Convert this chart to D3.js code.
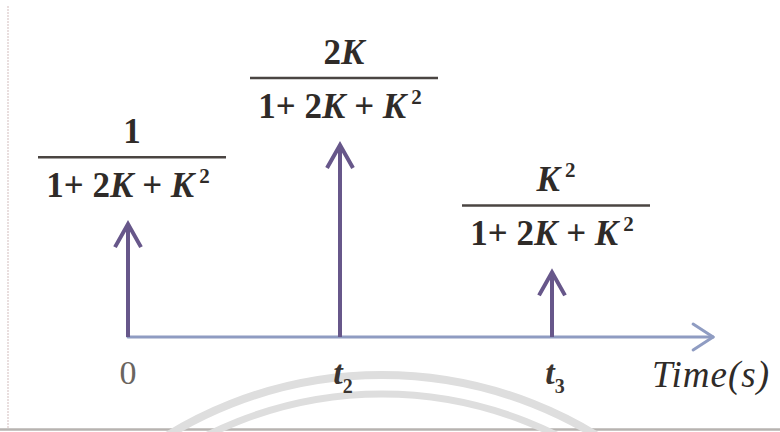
<!DOCTYPE html>
<html>
<head>
<meta charset="utf-8">
<script src="https://cdn.jsdelivr.net/npm/d3@7"></script>
<style>
  html, body { margin: 0; padding: 0; background: #fff; }
  svg { display: block; }
  text { font-family: "Liberation Serif", "Times New Roman", serif; }
</style>
</head>
<body>
<svg id="chart" width="780" height="432"></svg>
<script>
// Impulse train: sample instants and impulse strengths
const instants = [0, 1, 2];                 // t = 0, t2, t3 (equal spacing)
const strengths = [0.59, 1.0, 0.34];        // relative impulse heights
const tickLabels = [
  { main: "0", sub: "" , italic: false },
  { main: "t", sub: "2", italic: true },
  { main: "t", sub: "3", italic: true }
];
// Numerators of each weight; all share the denominator 1 + 2K + K^2
const numerators = [
  [{ t: "1" }],
  [{ t: "2" }, { t: "K", i: true }],
  [{ t: "K", i: true }, { t: "2", sup: true }]
];
const denominator = [
  { t: "1+ 2" }, { t: "K", i: true }, { t: " + " }, { t: "K", i: true }, { t: "2", sup: true }
];
const axisTitle = "Time(s)";

const svg = d3.select("#chart");
const W = 780, H = 432;

const x = d3.scaleLinear().domain([0, 3]).range([128, 764]);
const y = d3.scaleLinear().domain([0, 1]).range([337, 144]);
const tEnd = 2.76;

const impulseColor = "#67578a";
const axisColor = "#8f9cc2";
const textColor = "#2f2b28";

// Faint frame: left edge and bottom edge
svg.append("line").attr("x1", 8).attr("y1", 6).attr("x2", 8).attr("y2", 430)
  .attr("stroke", "#e2d4d4").attr("stroke-width", 1.5).attr("stroke-dasharray", "2,1");
svg.append("line").attr("x1", 0).attr("y1", 429.5).attr("x2", W).attr("y2", 429.5)
  .attr("stroke", "#b7b3b0").attr("stroke-width", 2.5);

// Pale concentric arcs near the bottom
const arcG = svg.append("g").attr("fill", "none").attr("stroke", "#dedede");
[[410, 8], [391, 7]].forEach(([r, w]) => {
  arcG.append("circle").attr("cx", 382).attr("cy", 785).attr("r", r).attr("stroke-width", w);
});

// Time axis with open arrowhead
const g = svg.append("g");
g.append("line")
  .attr("x1", x(0)).attr("y1", y(0)).attr("x2", x(tEnd)).attr("y2", y(0))
  .attr("stroke", axisColor).attr("stroke-width", 3).attr("stroke-linecap", "round");
g.append("path")
  .attr("d", d3.line()([[x(tEnd) - 20, y(0) - 13], [x(tEnd), y(0)], [x(tEnd) - 20, y(0) + 13]]))
  .attr("fill", "none").attr("stroke", axisColor).attr("stroke-width", 3)
  .attr("stroke-linecap", "round").attr("stroke-linejoin", "round");

// Impulses
const imp = g.selectAll("g.impulse").data(instants.map((t, i) => ({ t, v: strengths[i], i })))
  .join("g").attr("class", "impulse");
imp.append("line")
  .attr("x1", d => x(d.t)).attr("x2", d => x(d.t))
  .attr("y1", y(0)).attr("y2", d => y(d.v) + 2)
  .attr("stroke", impulseColor).attr("stroke-width", 4);
imp.append("path")
  .attr("d", d => d3.line()([[x(d.t) - 13, y(d.v) + 24], [x(d.t), y(d.v) + 1], [x(d.t) + 13, y(d.v) + 24]]))
  .attr("fill", "none").attr("stroke", impulseColor).attr("stroke-width", 4)
  .attr("stroke-linejoin", "miter").attr("stroke-linecap", "butt");

// Fraction labels above each impulse
function writeRuns(textSel, runs, size) {
  runs.forEach(r => {
    const ts = textSel.append("tspan").text(r.t);
    if (r.i) ts.attr("font-style", "italic");
    if (r.sup) ts.attr("font-size", size * 0.6).attr("dx", 5).attr("baseline-shift", "65%");
  });
}
const fs = 35;
imp.each(function (d) {
  const sel = d3.select(this);
  const cx = x(d.t) + 4;
  const lineY = y(d.v) - 66;
  sel.append("line")
    .attr("x1", cx - 94).attr("x2", cx + 94).attr("y1", lineY).attr("y2", lineY)
    .attr("stroke", "#4a4542").attr("stroke-width", 2.5);
  const num = sel.append("text").attr("x", cx).attr("y", lineY - 14)
    .attr("text-anchor", "middle").attr("font-size", fs).attr("font-weight", "bold")
    .attr("fill", textColor);
  writeRuns(num, numerators[d.i], fs);
  const den = sel.append("text").attr("x", cx - 4).attr("y", lineY + 40)
    .attr("text-anchor", "middle").attr("font-size", fs).attr("font-weight", "bold")
    .attr("fill", textColor);
  writeRuns(den, denominator, fs);
});

// Tick labels beneath the axis
const ticks = g.selectAll("text.tick").data(instants.map((t, i) => ({ t, lab: tickLabels[i] })))
  .join("text").attr("class", "tick")
  .attr("x", d => x(d.t) + (d.lab.sub ? 3 : 0)).attr("y", 384)
  .attr("text-anchor", "middle").attr("font-size", 34)
  .attr("fill", d => d.lab.sub ? "#3a3430" : "#6a6560");
ticks.append("tspan").text(d => d.lab.main)
  .attr("font-style", d => d.lab.italic ? "italic" : "normal")
  .attr("font-weight", d => d.lab.italic ? "bold" : "normal");
ticks.filter(d => d.lab.sub).append("tspan").text(d => d.lab.sub)
  .attr("font-size", 20).attr("dy", 9).attr("font-weight", "bold");

// Axis title
g.append("text").attr("x", 652).attr("y", 387)
  .attr("font-size", 37).attr("font-style", "italic").attr("letter-spacing", 1)
  .attr("fill", textColor).text(axisTitle);
</script>
</body>
</html>
